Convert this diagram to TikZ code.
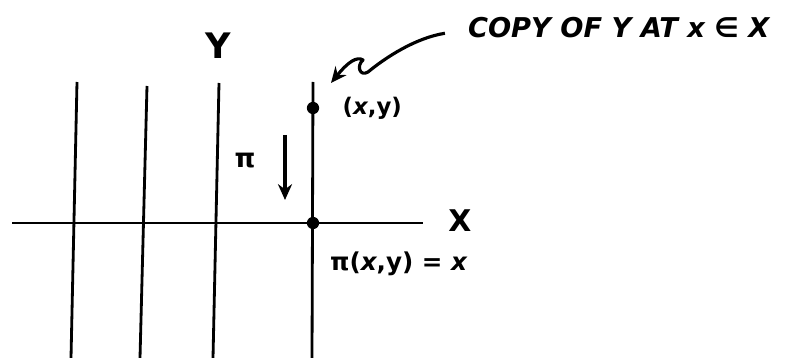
\documentclass[tikz,border=0pt]{standalone}
\usepackage{fontspec}
\setmainfont{DejaVu Sans}
\usetikzlibrary{arrows.meta,positioning}

\begin{document}
\begin{tikzpicture}[x=0.02cm, y=-0.02cm,
    fibre/.style={line width=1.6pt},
    dot/.style={circle, fill=black, inner sep=0pt, minimum size=7pt},
    lbl/.style={font=\bfseries, inner sep=1pt},
    arr/.style={-{Stealth[length=9pt, width=8pt]}, line width=2pt}
]
\useasboundingbox (0,0) rectangle (785,358);
% the base X
\coordinate (xl) at (12,223);
\coordinate (xr) at (423,223);
\draw[fibre] (xl) -- (xr);
\node[lbl, font=\bfseries\fontsize{17}{17}\selectfont] (X) at (460,221) {X};

% fibres (copies of Y)
\foreach \n/\t/\tx/\bx in {a/82/77/71, b/86/147/140, c/83/219/213}{
  \coordinate (\n top) at (\tx,\t);
  \coordinate (\n bot) at (\bx,358);
  \draw[fibre] (\n top) -- (\n bot);
}
\coordinate (dtop) at (313,82);
\coordinate (dbot) at (312,358);
\draw[fibre] (dtop) -- (dbot);
\node[lbl, font=\bfseries\fontsize{20}{20}\selectfont] (Y) at (218,46) {Y};

% points on the marked fibre
\node[dot] (pt) at (313,108) {};
\node[dot] (base) at (313,223) {};
\node[lbl, font=\bfseries\fontsize{13}{13}\selectfont, right=12pt of pt] (ptlbl) {(\textit{x},y)};
\node[lbl, font=\bfseries\fontsize{14}{14}\selectfont, anchor=west] (baselbl) at (328,264) {π(\textit{x},y) = \textit{x}};

% projection
\coordinate (ptop) at (285,135);
\coordinate (pbot) at (285,200);
\draw[arr] (ptop) -- (pbot);
\node[lbl, font=\bfseries\fontsize{15}{15}\selectfont] (pi) at (245,161) {π};

% comment and its arrow
\node[lbl, font=\bfseries\itshape\fontsize{15.5}{15.5}\selectfont, anchor=west] (copy) at (466,28) {COPY OF Y AT \textit{x} ∈ X};
\coordinate (tip) at (331,83);
\draw[arr, line width=1.8pt, line join=round] ([xshift=-12pt,yshift=-3pt]copy.west)
    .. controls (415,38) and (385,58) .. (368,72)
    .. controls (360,77) and (356,66) .. (363,60)
    .. controls (357,56) and (348,62) .. (tip);
\end{tikzpicture}
\end{document}
